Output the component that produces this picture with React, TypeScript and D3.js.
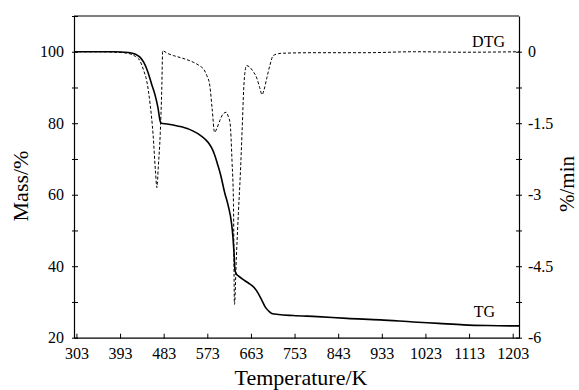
import { useEffect, useRef } from "react"
import * as d3 from "d3"

// TG curve: temperature (K) / mass (%)
const tgTemp = [298, 380, 410, 425, 434, 442, 450, 458, 465, 471, 476, 478, 490, 503, 520, 544, 558, 568, 576, 582, 588, 594, 600, 609, 616, 623, 626, 628, 630, 633, 637, 650, 661, 670, 678, 685, 692, 700, 706, 720, 750, 800, 861, 930, 998, 1050, 1102, 1150, 1212, 1216]
const tgMass = [100, 100, 99.8, 99.3, 98.5, 97, 94.5, 91, 88, 84.5, 80.5, 80, 79.8, 79.5, 79, 77.8, 76.7, 75.6, 74.4, 73.1, 71.2, 68.6, 65.8, 60.5, 57, 52, 48, 44, 39, 37.8, 37.3, 36, 35, 34, 32.4, 30.6, 28.7, 27.4, 26.8, 26.5, 26.2, 25.9, 25.4, 25, 24.4, 24, 23.6, 23.4, 23.3, 23.3]

// DTG curve: temperature (K) / rate (%/min)
const dtgTemp = [298, 350, 400, 415, 425, 434, 442, 448, 455, 461, 466, 469, 472, 476, 479, 481, 490, 503, 520, 544, 558, 565, 572, 578, 583, 588, 593, 599, 606, 612, 616, 620, 624, 627, 629, 633, 637, 641, 645, 648, 651, 654, 660, 668, 675, 681, 686, 690, 696, 702, 709, 720, 730, 800, 900, 1000, 1100, 1216]
const dtgRate = [0, 0, -0.02, -0.05, -0.1, -0.19, -0.4, -0.61, -1.1, -1.72, -2.5, -2.85, -2.4, -1.7, -0.8, 0.02, -0.03, -0.08, -0.13, -0.22, -0.3, -0.36, -0.5, -0.7, -1.2, -1.69, -1.6, -1.44, -1.3, -1.27, -1.35, -1.5, -2.3, -3.2, -5.3, -4.3, -3.4, -2.6, -1.6, -0.8, -0.4, -0.29, -0.32, -0.42, -0.55, -0.75, -0.9, -0.8, -0.54, -0.29, -0.08, -0.04, -0.03, -0.02, -0.02, 0, -0.01, 0]

const xTicks = [303, 393, 483, 573, 663, 753, 843, 933, 1023, 1113, 1203]
const massTicks = [20, 30, 40, 50, 60, 70, 80, 90, 100, 110]
const rateTicks = [0, -0.75, -1.5, -2.25, -3, -3.75, -4.5, -5.25, -6]

const FONT = "'Times New Roman', Times, 'Liberation Serif', 'DejaVu Serif', 'Noto Serif', serif"

export default function App() {
  const svgRef = useRef<SVGSVGElement>(null)

  useEffect(() => {
    if (!svgRef.current) return
    const width = 579
    const height = 390
    const left = 74
    const right = 519
    const top = 16
    const bottom = 337.7

    const svg = d3.select(svgRef.current).attr("width", width).attr("height", height)
    svg.selectAll("*").remove()

    const x = d3.scaleLinear().domain([298, 1216]).range([left, right])
    const yMass = d3.scaleLinear().domain([20, 110]).range([bottom, top])
    const yRate = d3.scaleLinear().domain([-6, 0.75]).range([bottom, top])

    // top border
    svg.append("line")
      .attr("x1", left).attr("x2", right)
      .attr("y1", top).attr("y2", top)
      .attr("stroke", "#000").attr("stroke-width", 1.2)

    const xAxis = svg.append("g")
      .attr("transform", `translate(0,${bottom})`)
      .call(d3.axisBottom(x).tickValues(xTicks).tickFormat((d) => String(d)).tickSizeInner(-4).tickSizeOuter(0).tickPadding(10))
    xAxis.selectAll(".tick line").attr("y1", 1).attr("y2", -4)

    const leftAxis = svg.append("g")
      .attr("transform", `translate(${left},0)`)
      .call(
        d3.axisLeft(yMass)
          .tickValues(massTicks)
          .tickFormat((d) => (+d % 20 === 0 && +d <= 100 ? String(d) : ""))
          .tickSizeInner(-4)
          .tickSizeOuter(0)
          .tickPadding(10)
      )
    leftAxis.selectAll(".tick line").attr("x1", -2).attr("x2", 4)

    const rightAxis = svg.append("g")
      .attr("transform", `translate(${right},0)`)
      .call(
        d3.axisRight(yRate)
          .tickValues(rateTicks)
          .tickFormat((d) => (+d % 1.5 === 0 ? String(+d === 0 ? 0 : d) : ""))
          .tickSizeInner(3)
          .tickSizeOuter(0)
          .tickPadding(6)
      )
    rightAxis.selectAll(".tick line").attr("x1", -3).attr("x2", 3)

    for (const g of [xAxis, leftAxis, rightAxis]) {
      g.attr("font-family", FONT).attr("font-size", 16)
      g.select(".domain").attr("stroke", "#000").attr("stroke-width", 1.2)
      g.selectAll(".tick line").attr("stroke", "#000").attr("stroke-width", 1)
      g.selectAll(".tick text").attr("fill", "#000").attr("font-family", FONT)
    }

    const tgLine = d3.line<number>()
      .x((_, i) => x(tgTemp[i]))
      .y((d) => yMass(d))
      .curve(d3.curveMonotoneX)

    const dtgLine = d3.line<number>()
      .x((_, i) => x(dtgTemp[i]))
      .y((d) => yRate(d))
      .curve(d3.curveMonotoneX)

    svg.append("path")
      .attr("d", dtgLine(dtgRate))
      .attr("fill", "none")
      .attr("stroke", "#000")
      .attr("stroke-width", 1)
      .attr("stroke-dasharray", "3 2")

    svg.append("path")
      .attr("d", tgLine(tgMass))
      .attr("fill", "none")
      .attr("stroke", "#000")
      .attr("stroke-width", 1.6)

    const label = (xp: number, yp: number, size: number, anchor: string, txt: string, rotate = false) =>
      svg.append("text")
        .attr("transform", rotate ? `translate(${xp},${yp}) rotate(-90)` : `translate(${xp},${yp})`)
        .attr("text-anchor", anchor)
        .attr("font-family", FONT)
        .attr("font-size", size)
        .text(txt)

    label(505, 46.5, 16, "end", "DTG")
    label(495, 316.5, 16, "end", "TG")
    label(301, 385, 22, "middle", "Temperature/K")
    label(28, 186, 22, "middle", "Mass/%", true)
    label(574, 184, 21, "middle", "%/min", true)
  }, [])

  return (
    <div style={{ position: "absolute", left: 0, top: 0 }}>
      <svg ref={svgRef} style={{ display: "block", background: "#fff" }} />
    </div>
  )
}
